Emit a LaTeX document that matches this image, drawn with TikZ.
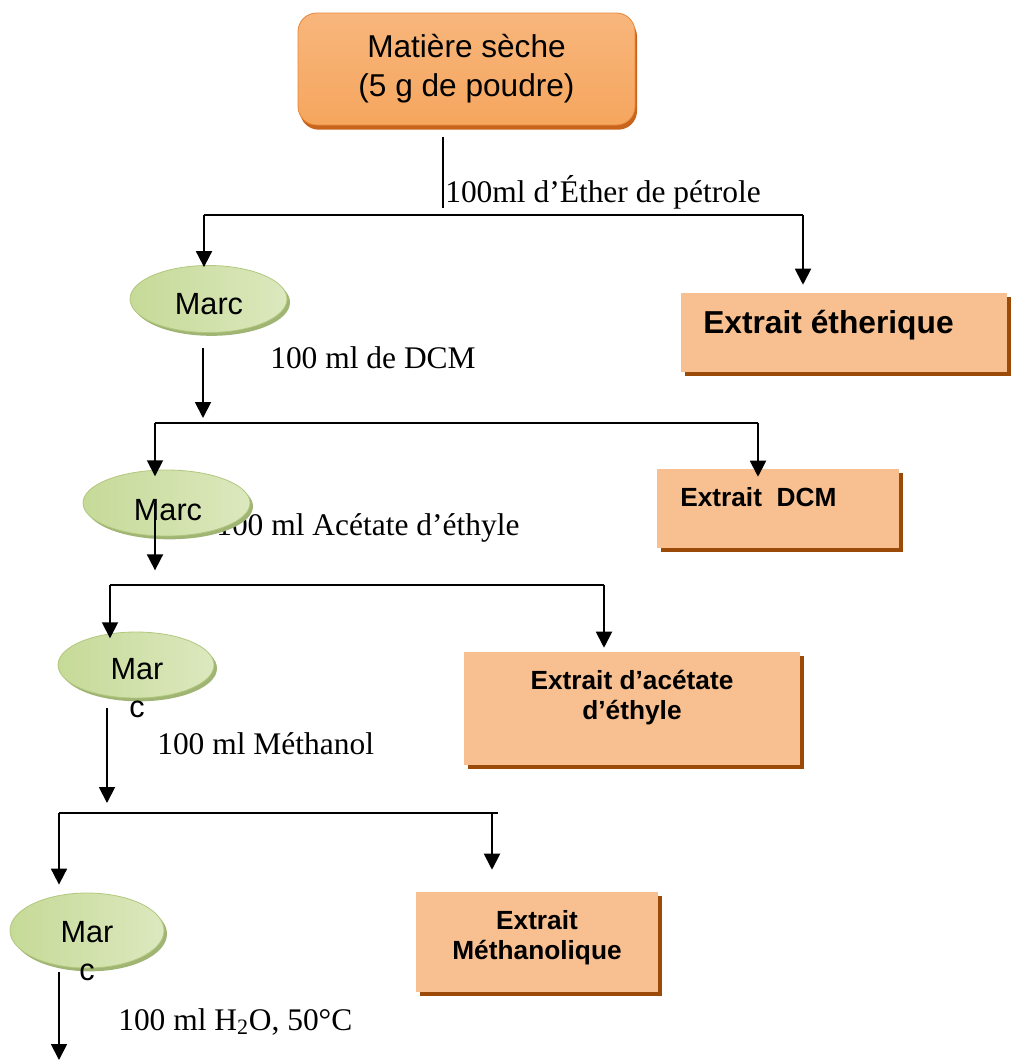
\documentclass[tikz,border=0pt]{standalone}
\usepackage{fontspec}
\setmainfont{Liberation Serif}
\newfontfamily\arialf{Liberation Sans}
\usetikzlibrary{arrows.meta,shapes.geometric}
\definecolor{boxfill}{HTML}{F8C090}
\definecolor{boxshadow}{HTML}{9C4A08}
\definecolor{elllight}{HTML}{DCE8BE}
\definecolor{ellmid}{HTML}{C6DA98}
\definecolor{ellshadow}{HTML}{A0B474}
\definecolor{elledge}{HTML}{B2C77E}
\definecolor{toplight}{HTML}{F8B67C}
\definecolor{topmid}{HTML}{F29444}
\definecolor{topbot}{HTML}{F5A65E}
\definecolor{topedge}{HTML}{E8863A}
\definecolor{topshadow}{HTML}{C8641C}
\begin{document}
\begin{tikzpicture}[x=0.75pt,y=-0.75pt,
  ln/.style={line width=1.4pt,black},
  arr/.style={ln,-{Triangle[width=12pt,length=12pt]}},
  lbl/.style={anchor=base west,inner sep=0,font=\fontsize{23.6}{28}\selectfont},
  topbox/.style={rectangle,rounded corners=14pt,draw=topedge,line width=0.6pt,
    top color=toplight,middle color=topmid,bottom color=topbot,
    preaction={fill=topshadow,transform canvas={xshift=1.5pt,yshift=-3.5pt}},
    inner sep=0,align=center,font=\arialf\fontsize{23.7}{29.25}\selectfont},
  ell/.style={ellipse,draw=elledge,line width=0.6pt,left color=ellmid,right color=elllight,
    preaction={fill=ellshadow,transform canvas={xshift=2.25pt,yshift=-2.5pt}},inner sep=0},
  elltext/.style={inner sep=0,align=center,font=\arialf\fontsize{23}{28.5}\selectfont},
  box/.style={rectangle,fill=boxfill,inner sep=0,
    preaction={fill=boxshadow,transform canvas={xshift=3pt,yshift=-3pt}}},
  boxtext/.style={inner sep=0,align=center,font=\arialf\bfseries\fontsize{19.7}{22.5}\selectfont}
]
\useasboundingbox (0,0) rectangle (1011,1061);

% solvent labels (drawn first, ellipses overlap them)
\node[lbl] (l1) at (445,202) {100ml d’Éther de pétrole};
\node[lbl] (l2) at (270,368) {100 ml de DCM};
\node[lbl] (l3) at (216,535) {100 ml Acétate d’éthyle};
\node[lbl] (l4) at (157,754) {100 ml Méthanol};
\node[lbl] (l5) at (118,1030) {100 ml H\textsubscript{2}O, 50°C};

% top box
\node[topbox,minimum width=252.75pt,minimum height=84pt] (top) at (466.5,69) {Matière sèche\\(5 g de poudre)};

% ellipses (Marc)
\node[ell,minimum width=117.75pt,minimum height=50.25pt] (m1) at (208.5,299) {};
\node[ell,minimum width=125.25pt,minimum height=49.5pt] (m2) at (166.5,503) {};
\node[ell,minimum width=117pt,minimum height=49.5pt] (m3) at (136,665) {};
\node[ell,minimum width=115.5pt,minimum height=56.25pt] (m4) at (87,930.5) {};
\node[elltext,anchor=base] (t1) at (209,314) {Marc};
\node[elltext,anchor=base] (t2) at (168,520) {Marc};
\node[elltext,anchor=north] (t3) at (137,658) {Mar\\c};
\node[elltext,anchor=north] (t4) at (87,921) {Mar\\c};

% extract boxes
\node[box,minimum width=244.5pt,minimum height=59.25pt] (e1) at (844,332.5) {};
\node[box,minimum width=181.5pt,minimum height=59.25pt] (e2) at (778,508.5) {};
\node[box,minimum width=252pt,minimum height=84.75pt] (e3) at (632,708.5) {};
\node[box,minimum width=181.5pt,minimum height=75pt] (e4) at (537,942) {};
\node[boxtext,anchor=base west,font=\arialf\bfseries\fontsize{23.8}{27}\selectfont] (x1) at (703,333) {Extrait étherique};
\node[boxtext,anchor=base west] (x2) at (680,506) {Extrait\ \ DCM};
\node[boxtext] (x3) at (632,698) {Extrait d’acétate\\d’éthyle};
\node[boxtext] (x4) at (537,938) {Extrait\\Méthanolique};

% connector coordinates
\coordinate (v1) at (443,208);
\coordinate (b1l) at (204,215);
\coordinate (b1r) at (803,215);
\coordinate (a1) at (203,423);
\coordinate (b2l) at (155,423);
\coordinate (b2r) at (758,423);
\coordinate (a3) at (155,585);
\coordinate (b3l) at (110,585);
\coordinate (b3r) at (604,585);
\coordinate (a5) at (107,813);
\coordinate (b4l) at (59,813);
\coordinate (b4r) at (498,813);
\coordinate (a6) at (492,813);
\coordinate (a7) at (59,1060);

% connectors
\draw[ln,shorten <=9pt] (top.south -| v1) -- (v1);
\draw[ln] (b1l) -- (b1r);
\draw[arr,shorten >=-1.5pt] (b1l) -- (b1l |- m1.north);
\draw[arr,shorten >=6pt] (b1r) -- (b1r |- e1.north);

\draw[arr,shorten <=11pt,shorten >=3.75pt] (m1.south -| a1) -- (a1);
\draw[ln] (b2l) -- (b2r);
\draw[arr,shorten >=-5pt] (b2l) -- (b2l |- m2.north);
\draw[arr,shorten >=-6pt] (b2r) -- (b2r |- e2.north);

\draw[arr,shorten >=11pt] (m2.center -| a3) -- (a3);
\draw[ln] (b3l) -- (b3r);
\draw[arr,shorten >=-5pt] (b3l) -- (b3l |- m3.north);
\draw[arr,shorten >=3pt] (b3r) -- (b3r |- e3.north);

\draw[arr,shorten <=7.5pt,shorten >=7.5pt] (m3.south -| a5) -- (a5);
\draw[ln] (b4l) -- (b4r);
\draw[arr,shorten >=6pt] (b4l) -- (b4l |- m4.north);
\draw[arr,shorten >=16.5pt] (a6) -- (a6 |- e4.north);

\draw[arr,shorten <=3pt] (m4.south -| a7) -- (a7);
\end{tikzpicture}
\end{document}
